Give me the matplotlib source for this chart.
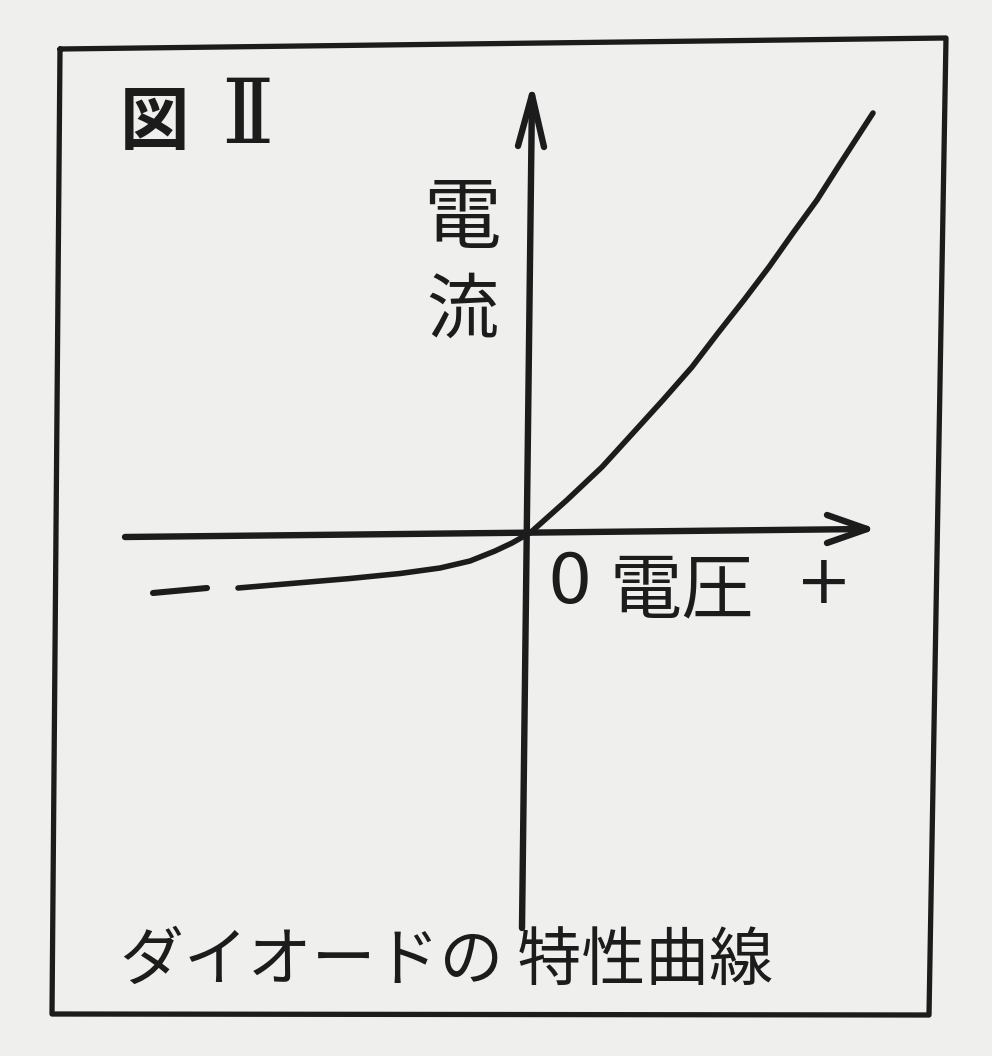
import numpy as np
import matplotlib
matplotlib.use("Agg")
import matplotlib.pyplot as plt

plt.rcParams["font.family"] = ["Noto Sans CJK JP", "DejaVu Sans"]

# diode I-V sketch, units: 1 = 100 px, origin where the axes cross
dash_voltage = [-3.73, -3.19]
dash_current = [-0.57, -0.52]
curve_voltage = [-2.88, -2.29, -1.76, -1.26, -0.86, -0.56, -0.31, -0.14, 0.0,
                 0.04, 0.41, 0.76, 1.07, 1.37, 1.66, 1.92, 2.18, 2.43, 2.67,
                 2.91, 3.12, 3.47]
curve_current = [-0.52, -0.47, -0.425, -0.375, -0.32, -0.25, -0.15, -0.07, 0.01,
                 0.03, 0.36, 0.69, 1.03, 1.36, 1.69, 2.03, 2.36, 2.69, 3.03,
                 3.36, 3.69, 4.23]

fig_label = "図"
fig_number = "Ⅱ"
ylabel_chars = ["電", "流"]
zero_text = "0"
xlabel_text = "電圧"
plus_text = "+"
caption_text = "ダイオードの 特性曲線"

ink = "#1c1c1c"
paper = "#efefed"

W, H = 992, 1056
ox, oy = 526, 536  # pixel position of origin


def px(x, y):
    return (x - ox) / 100, (oy - y) / 100


fig = plt.figure(figsize=(W / 100, H / 100), dpi=100, facecolor=paper)
ax = fig.add_axes([0, 0, 1, 1])
ax.set_facecolor(paper)
ax.set_xlim((0 - ox) / 100, (W - ox) / 100)
ax.set_ylim((oy - H) / 100, oy / 100)
ax.axis("off")

# hand drawn frame
frame = [px(60, 49), px(946, 38), px(929, 1015), px(52, 1014), px(60, 49)]
ax.plot([p[0] for p in frame], [p[1] for p in frame], color=ink, lw=3.8,
        solid_joinstyle="round", solid_capstyle="round")

# horizontal axis with arrow
hx0, hx1 = px(125, 537), px(867, 529)
ax.plot([hx0[0], hx1[0]], [hx0[1], hx1[1]], color=ink, lw=4.6,
        solid_capstyle="round")
b1, b2 = px(827, 515), px(827, 543)
ax.plot([b1[0], hx1[0], b2[0]], [b1[1], hx1[1], b2[1]], color=ink, lw=4.6,
        solid_capstyle="round", solid_joinstyle="round")

# vertical axis with arrow
vy0, vy1 = px(522, 928), px(532, 95)
ax.plot([vy0[0], vy1[0]], [vy0[1], vy1[1]], color=ink, lw=4.6,
        solid_capstyle="round")
b1, b2 = px(518, 146), px(544, 147)
ax.plot([b1[0], vy1[0], b2[0]], [b1[1], vy1[1], b2[1]], color=ink, lw=4.6,
        solid_capstyle="round", solid_joinstyle="round")

# characteristic curve
ax.plot(dash_voltage, dash_current, color=ink, lw=4.4, solid_capstyle="round")
ax.plot(curve_voltage, curve_current, color=ink, lw=4.0,
        solid_capstyle="round", solid_joinstyle="round")

# texts
kw = dict(color=ink, ha="center", va="center")
ax.text(*px(155, 124), fig_label, fontsize=50, fontweight="bold", **kw)
ax.text(*px(247, 118), fig_number, fontsize=64, family="DejaVu Serif", **kw)
ax.text(*px(462, 220), ylabel_chars[0], fontsize=56, **kw)
ax.text(*px(462, 312), ylabel_chars[1], fontsize=52, **kw)
ax.text(*px(569, 584), zero_text, fontsize=50, family="DejaVu Sans", **kw)
ax.text(*px(682, 592), xlabel_text, fontsize=52, **kw)
ax.text(*px(824, 584), plus_text, fontsize=48, family="DejaVu Sans", **kw)
ax.text(*px(447, 962), caption_text, fontsize=46, **kw)

fig.savefig("out.png", dpi=100, facecolor=paper)
